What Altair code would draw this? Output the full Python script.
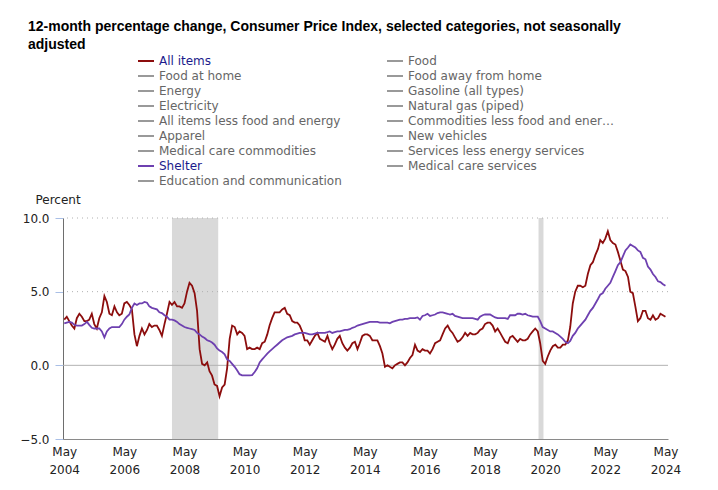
import altair as alt
import pandas as pd

# ---------------- data ----------------
months = pd.date_range("2004-05-01", "2024-05-01", freq="MS").strftime("%Y-%m-%dT00:00:00").tolist()

all_items = [
    3.1, 3.3, 3.0, 2.7, 2.5, 3.2, 3.5, 3.3,
    3.0, 3.0, 3.1, 3.5, 2.8, 2.5, 3.2, 3.6, 4.7, 4.3, 3.5, 3.4,
    4.0, 3.6, 3.4, 3.5, 4.2, 4.3, 4.1, 3.8, 2.1, 1.3, 2.0, 2.5,
    2.1, 2.4, 2.8, 2.6, 2.7, 2.7, 2.4, 2.0, 2.8, 3.5, 4.3, 4.1,
    4.3, 4.0, 4.0, 3.9, 4.2, 5.0, 5.6, 5.4, 4.9, 3.7, 1.1, 0.1,
    0.0, 0.2, -0.4, -0.7, -1.3, -1.4, -2.1, -1.5, -1.3, -0.2, 1.8, 2.7,
    2.6, 2.1, 2.3, 2.2, 2.0, 1.1, 1.2, 1.1, 1.1, 1.2, 1.1, 1.5,
    1.6, 2.1, 2.7, 3.2, 3.6, 3.6, 3.6, 3.8, 3.9, 3.5, 3.4, 3.0,
    2.9, 2.9, 2.7, 2.3, 1.7, 1.7, 1.4, 1.7, 2.0, 2.2, 1.8, 1.7,
    1.6, 2.0, 1.5, 1.1, 1.4, 1.8, 2.0, 1.5, 1.2, 1.0, 1.2, 1.5,
    1.6, 1.1, 1.5, 2.0, 2.1, 2.1, 2.0, 1.7, 1.7, 1.7, 1.3, 0.8,
    -0.1, 0.0, -0.1, -0.2, 0.0, 0.1, 0.2, 0.2, 0.0, 0.2, 0.5, 0.7,
    1.4, 1.0, 0.9, 1.1, 1.0, 1.0, 0.8, 1.1, 1.5, 1.6, 1.7, 2.1,
    2.5, 2.7, 2.4, 2.2, 1.9, 1.6, 1.7, 1.9, 2.2, 2.0, 2.2, 2.1,
    2.1, 2.2, 2.4, 2.5, 2.8, 2.9, 2.9, 2.7, 2.3, 2.5, 2.2, 1.9,
    1.6, 1.5, 1.9, 2.0, 1.8, 1.6, 1.8, 1.7, 1.7, 1.8, 2.1, 2.3,
    2.5, 2.3, 1.5, 0.3, 0.1, 0.6, 1.0, 1.3, 1.4, 1.2, 1.2, 1.4,
    1.4, 1.7, 2.6, 4.2, 5.0, 5.4, 5.4, 5.3, 5.4, 6.2, 6.8, 7.0,
    7.5, 7.9, 8.5, 8.3, 8.6, 9.1, 8.5, 8.3, 8.2, 7.7, 7.1, 6.5,
    6.4, 6.0, 5.0, 4.9, 4.0, 3.0, 3.2, 3.7, 3.7, 3.2, 3.1, 3.4,
    3.1, 3.2, 3.5, 3.4, 3.3,
]

shelter = [
    2.85, 2.9, 2.95, 2.9, 2.75, 2.7, 2.7, 2.7,
    2.8, 2.95, 2.75, 2.55, 2.5, 2.5, 2.5, 2.3, 1.9, 2.3, 2.5, 2.6,
    2.6, 2.6, 2.6, 2.8, 3.1, 3.3, 3.45, 3.9, 4.2, 4.1, 4.2, 4.2,
    4.3, 4.25, 4.0, 3.9, 3.85, 3.8, 3.6, 3.55, 3.4, 3.3, 3.1, 3.1,
    3.05, 2.95, 2.8, 2.7, 2.6, 2.55, 2.5, 2.45, 2.4, 2.2, 2.1, 1.95,
    1.85, 1.7, 1.65, 1.55, 1.4, 1.15, 1.0, 0.9, 0.75, 0.4, 0.3, 0.1,
    -0.1, -0.35, -0.6, -0.68, -0.68, -0.68, -0.68, -0.66, -0.45, -0.2, 0.2, 0.4,
    0.6, 0.8, 0.95, 1.1, 1.25, 1.4, 1.55, 1.7, 1.8, 1.9, 1.95, 2.0,
    2.1, 2.15, 2.2, 2.2, 2.2, 2.15, 2.1, 2.1, 2.15, 2.2, 2.2, 2.2,
    2.2, 2.25, 2.3, 2.2, 2.25, 2.3, 2.3, 2.35, 2.4, 2.4, 2.45, 2.55,
    2.6, 2.7, 2.75, 2.8, 2.85, 2.9, 2.95, 2.95, 2.95, 2.95, 2.9, 2.9,
    2.9, 2.9, 2.85, 2.95, 3.0, 3.05, 3.1, 3.1, 3.15, 3.15, 3.2, 3.2,
    3.2, 3.25, 3.1, 3.35, 3.4, 3.5, 3.35, 3.4, 3.45, 3.55, 3.6, 3.6,
    3.55, 3.5, 3.45, 3.5, 3.35, 3.3, 3.25, 3.2, 3.2, 3.2, 3.2, 3.2,
    3.15, 3.1, 3.3, 3.4, 3.45, 3.45, 3.45, 3.35, 3.25, 3.2, 3.2, 3.2,
    3.2, 3.15, 3.4, 3.4, 3.4, 3.5, 3.5, 3.45, 3.5, 3.4, 3.35, 3.3,
    3.3, 3.3, 3.0, 2.6, 2.5, 2.4, 2.3, 2.3, 2.2, 2.1, 1.95, 1.8,
    1.6, 1.5, 1.65, 2.0, 2.2, 2.5, 2.7, 2.9, 3.1, 3.4, 3.7, 3.9,
    4.2, 4.5, 4.8, 4.9, 5.2, 5.4, 5.6, 6.0, 6.4, 6.8, 7.0, 7.4,
    7.8, 8.0, 8.2, 8.1, 8.0, 7.8, 7.7, 7.3, 7.2, 6.7, 6.5, 6.2,
    6.0, 5.7, 5.65, 5.5, 5.4,
]

# legend order (column by column: left column first, then right column)
series_names = [
    "All items", "Food at home", "Energy", "Electricity",
    "All items less food and energy", "Apparel", "Medical care commodities",
    "Shelter", "Education and communication",
    "Food", "Food away from home", "Gasoline (all types)", "Natural gas (piped)",
    "Commodities less food and energy commodities", "New vehicles",
    "Services less energy services", "Medical care services",
]
series_colors = [
    "#8c0d0d", "#999999", "#999999", "#999999",
    "#999999", "#999999", "#999999",
    "#6e40b0", "#999999",
    "#999999", "#999999", "#999999", "#999999",
    "#999999", "#999999",
    "#999999", "#999999",
]

rec_start = ["2007-12-01T00:00:00", "2020-02-10T00:00:00"]
rec_end = ["2009-06-15T00:00:00", "2020-04-10T00:00:00"]

grid_values = [5, 10]
zero_value = [0]
y_ticks = [-5, 0, 5, 10]
x_tick_years = [2004, 2006, 2008, 2010, 2012, 2014, 2016, 2018, 2020, 2022, 2024]

title_lines = [
    "12-month percentage change, Consumer Price Index, selected categories, not seasonally",
    "adjusted",
]

# ---------------- build ----------------
df = pd.DataFrame({
    "date": months + months,
    "value": all_items + shelter,
    "series": ["All items"] * len(all_items) + ["Shelter"] * len(shelter),
})
rec_df = pd.DataFrame({"start": rec_start, "end": rec_end})
grid_df = pd.DataFrame({"y": grid_values})
zero_df = pd.DataFrame({"y": zero_value})

FONT = "DejaVu Sans"

x_scale = alt.Scale(domain=[alt.DateTime(year=2004, month=4, date=16),
                            alt.DateTime(year=2024, month=6, date=1)])
y_scale = alt.Scale(domain=[-5, 10], nice=False, zero=False)

x_axis = alt.Axis(
    values=[alt.DateTime(year=y, month=5, date=1) for y in x_tick_years],
    labelExpr="[timeFormat(datum.value, '%b'), timeFormat(datum.value, '%Y')]",
    ticks=False, grid=False, title=None,
    labelFont=FONT, labelFontSize=12, labelColor="#222",
    labelPadding=7, labelLineHeight=18,
    domainColor="#8a8a8a", labelAngle=0,
)
y_axis = alt.Axis(
    values=y_ticks, format=".1f", grid=False,
    labelFont=FONT, labelFontSize=12, labelColor="#222", labelPadding=6,
    tickColor="#a9bfe6", tickSize=8, domainColor="#6e6e6e",
    title="Percent", titleAngle=0, titleX=-28, titleY=-19,
    titleAlign="left", titleBaseline="middle",
    titleFont=FONT, titleFontSize=12, titleFontWeight="normal", titleColor="#222",
)

shade = alt.Chart(rec_df).mark_rect(color="#d9d9d9").encode(
    x=alt.X("start:T", scale=x_scale, axis=x_axis),
    x2="end:T",
)

grid = alt.Chart(grid_df).mark_rule(color="#b0b0b0", strokeDash=[1, 4], strokeWidth=1).encode(
    y=alt.Y("y:Q", scale=y_scale, axis=y_axis),
)

zero = alt.Chart(zero_df).mark_rule(color="#b3b3b3", strokeWidth=1).encode(
    y=alt.Y("y:Q", scale=y_scale),
)

lines = alt.Chart(df).mark_line(strokeWidth=1.8).encode(
    x=alt.X("date:T", scale=x_scale, axis=x_axis),
    y=alt.Y("value:Q", scale=y_scale, axis=y_axis),
    color=alt.Color(
        "series:N",
        scale=alt.Scale(domain=series_names, range=series_colors),
        legend=alt.Legend(
            title=None, orient="none", legendX=74, legendY=-166,
            columns=2, columnPadding=41, rowPadding=0,
            symbolType="stroke", symbolSize=256, symbolStrokeWidth=2,
            labelFont=FONT, labelFontSize=12, labelLimit=210, labelOffset=4,
            labelColor=alt.ExprRef(
                "datum.label == 'All items' || datum.label == 'Shelter' ? '#1b1b8c' : '#666666'"
            ),
        ),
    ),
    detail="series:N",
)

chart = alt.layer(shade, grid, zero, lines).properties(
    width=605,
    height=221,
    autosize=alt.AutoSizeParams(type="none"),
    padding={"left": 55, "top": 210, "right": 40, "bottom": 43},
    title=alt.TitleParams(
        text=title_lines, anchor="start", frame="group",
        font="Liberation Sans", fontSize=14, fontWeight="bold", color="#000000",
        dx=-35, dy=3, lineHeight=18, offset=3,
    ),
).configure_view(stroke=None)

chart.save("out.html", embed_options={"renderer": "svg", "actions": False})
